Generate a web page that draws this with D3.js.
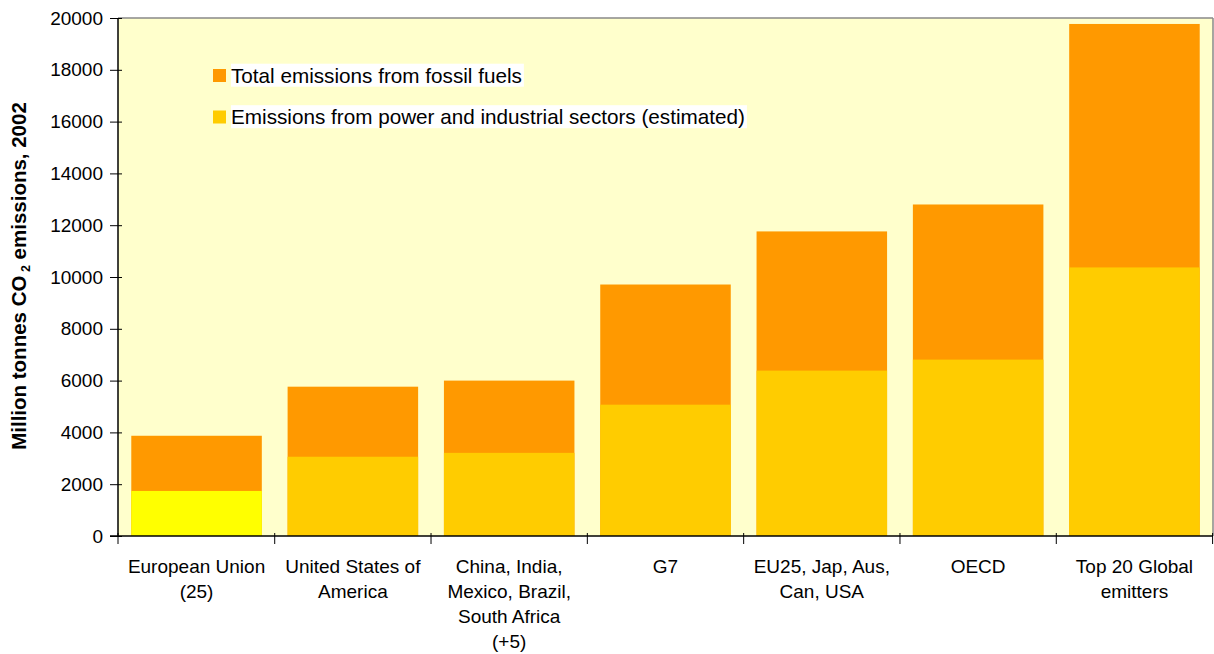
<!DOCTYPE html>
<html><head><meta charset="utf-8">
<script src="https://cdn.jsdelivr.net/npm/d3@7"></script>
<style>body{margin:0;background:#fff;} text{font-family:Arial,"Liberation Sans",sans-serif;}</style>
</head><body>
<svg id="c" width="1214" height="654"></svg>
<script>
const categories = [
  ["European Union","(25)"],
  ["United States of","America"],
  ["China, India,","Mexico, Brazil,","South Africa","(+5)"],
  ["G7"],
  ["EU25, Jap, Aus,","Can, USA"],
  ["OECD"],
  ["Top 20 Global","emitters"]
];
const totalEmissions = [3870, 5765, 6000, 9710, 11760, 12800, 19770];
const powerEmissions = [1740, 3060, 3210, 5070, 6385, 6810, 10370];
const yTicks = [0,2000,4000,6000,8000,10000,12000,14000,16000,18000,20000];
const legendLabels = ["Total emissions from fossil fuels","Emissions from power and industrial sectors (estimated)"];

const svg = d3.select("#c");
const m = {l:118, t:18, r:1213, b:536};
const ids = categories.map((d,i)=>i);
const x = d3.scaleBand().domain(ids).range([m.l, m.r]).paddingInner(0.165).paddingOuter(0.085);
const y = d3.scaleLinear().domain([0,20000]).range([m.b, m.t]);

svg.append("rect").attr("x",m.l).attr("y",m.t).attr("width",m.r-m.l).attr("height",m.b-m.t).attr("fill","#FFFFCC");
svg.append("line").attr("x1",m.l).attr("x2",m.r).attr("y1",m.t).attr("y2",m.t).attr("stroke","#888").attr("stroke-width",1.5);
svg.append("line").attr("x1",m.r).attr("x2",m.r).attr("y1",m.t).attr("y2",m.b).attr("stroke","#888").attr("stroke-width",1.5);

svg.append("g").selectAll("rect").data(totalEmissions).join("rect")
  .attr("x",(d,i)=>x(i)).attr("width",x.bandwidth())
  .attr("y",d=>y(d)).attr("height",d=>y(0)-y(d)).attr("fill","#FF9900");
svg.append("g").selectAll("rect").data(powerEmissions).join("rect")
  .attr("x",(d,i)=>x(i)).attr("width",x.bandwidth())
  .attr("y",d=>y(d)).attr("height",d=>y(0)-y(d)).attr("fill",(d,i)=>i===0?"#FFFF00":"#FFCC00");

// y axis
const ya = svg.append("g").attr("transform",`translate(${m.l},0)`)
  .call(d3.axisLeft(y).tickValues(yTicks).tickSize(8).tickPadding(7).tickFormat(d3.format("d")));
ya.select(".domain").attr("stroke","#000").attr("stroke-width",1.5).attr("d",`M0,${m.b}V${m.t}`);
ya.selectAll(".tick line").attr("x1",-8).attr("x2",4).attr("stroke","#000");
ya.selectAll(".tick text").attr("font-size",19).attr("fill","#000").attr("font-family","Arial, Liberation Sans, sans-serif");

// x axis line and ticks at band edges
const xa = svg.append("g");
xa.append("line").attr("x1",m.l-8).attr("x2",m.r).attr("y1",m.b).attr("y2",m.b).attr("stroke","#000").attr("stroke-width",1.5);
const step = x.step();
const edges = d3.range(categories.length+1).map(i=> i===0? m.l : x(i-1)+x.bandwidth()+ (step-x.bandwidth())/2);
xa.selectAll("line.tk").data(edges).join("line").attr("class","tk")
  .attr("x1",d=>d).attr("x2",d=>d).attr("y1",m.b-3).attr("y2",m.b+8).attr("stroke","#000");

// x labels
const lab = svg.append("g").selectAll("text").data(categories).join("text")
  .attr("text-anchor","middle").attr("font-size",19).attr("fill","#000")
  .attr("x",(d,i)=>x(i)+x.bandwidth()/2).attr("y",572.5);
lab.selectAll("tspan").data(d=>d).join("tspan")
  .attr("x",function(){return this.parentNode.getAttribute("x");})
  .attr("dy",(d,i)=>i===0?0:25).text(d=>d);

// y label
const yl = svg.append("text").attr("transform","translate(26,276) rotate(-90)")
  .attr("text-anchor","middle").attr("font-size",20.5).attr("font-weight","bold").attr("fill","#000");
yl.append("tspan").text("Million tonnes CO");
yl.append("tspan").attr("font-size",12.5).attr("dy",4).text(" 2");
yl.append("tspan").attr("dy",-4).text(" emissions, 2002");

// legend
const legColors = ["#FF9900","#FFCC00"];
const lg = svg.append("g").selectAll("g").data(legendLabels).join("g")
  .attr("transform",(d,i)=>`translate(213,${69+i*41.5})`);
lg.append("rect").attr("width",13).attr("height",13).attr("fill",(d,i)=>legColors[i]);
lg.each(function(d){
  const g = d3.select(this);
  const t = g.append("text").attr("x",18).attr("y",13.7).attr("font-size",20.7).attr("fill","#000").text(d);
  const bb = t.node().getBBox();
  g.insert("rect","text").attr("x",bb.x).attr("y",bb.y).attr("width",bb.width+2).attr("height",bb.height).attr("fill","#fff");
});
</script>
</body></html>
